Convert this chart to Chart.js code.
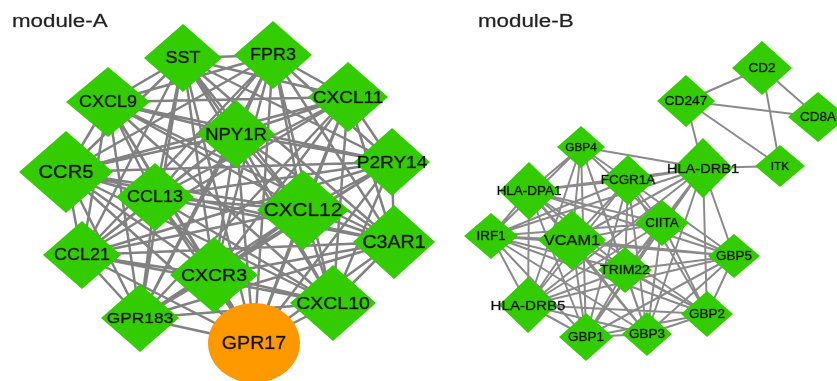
<!DOCTYPE html>
<html>
<head>
<meta charset="utf-8">
<script src="https://cdn.jsdelivr.net/npm/chart.js@4"></script>
<style>
  body { margin: 0; background: #fff; }
  #wrap { width: 837px; height: 381px; position: relative; }
</style>
</head>
<body>
<div id="wrap"><canvas id="netChart"></canvas></div>
<script>
// node layout (same pixel space as the picture, y grows downward)
const nodeNames = ['SST', 'FPR3', 'CXCL9', 'CXCL11', 'NPY1R', 'CCR5', 'P2RY14', 'CCL13', 'CXCL12', 'C3AR1',
  'CCL21', 'CXCR3', 'CXCL10', 'GPR183', 'GPR17',
  'CD2', 'CD247', 'CD8A', 'ITK', 'HLA-DRB1', 'GBP4', 'FCGR1A', 'HLA-DPA1', 'IRF1', 'VCAM1',
  'CIITA', 'GBP5', 'TRIM22', 'HLA-DRB5', 'GBP1', 'GBP3', 'GBP2'];
const nodeX = [183, 273, 108, 348, 236, 66, 392, 155, 303, 394, 82, 214, 333, 140, 254,
  762, 686, 818, 780, 703, 581, 628, 529, 491, 572, 662, 734, 625, 528, 586, 647, 707];
const nodeY = [58, 55, 102, 97, 134, 172, 162, 197, 210, 242, 255, 275, 303, 318, 343,
  68, 101, 117, 166, 168, 147, 180, 191, 236, 240, 223, 256, 270, 305, 337, 334, 314];

// interactions, one line per node: "node: neighbours"
const edgesA = [
  'SST: FPR3 CXCL9 CXCL11 NPY1R CCR5 P2RY14 CCL13 CXCL12 C3AR1 CCL21 CXCR3 CXCL10 GPR183 GPR17',
  'FPR3: CXCL9 CXCL11 NPY1R CCR5 P2RY14 CCL13 CXCL12 C3AR1 CCL21 CXCR3 CXCL10 GPR183 GPR17',
  'CXCL9: CXCL11 NPY1R CCR5 P2RY14 CCL13 CXCL12 C3AR1 CCL21 CXCR3 CXCL10 GPR183 GPR17',
  'CXCL11: NPY1R CCR5 P2RY14 CCL13 CXCL12 C3AR1 CCL21 CXCR3 CXCL10 GPR183 GPR17',
  'NPY1R: CCR5 P2RY14 CCL13 CXCL12 C3AR1 CCL21 CXCR3 CXCL10 GPR183 GPR17',
  'CCR5: P2RY14 CCL13 CXCL12 C3AR1 CCL21 CXCR3 CXCL10 GPR183 GPR17',
  'P2RY14: CCL13 CXCL12 C3AR1 CCL21 CXCR3 CXCL10 GPR183 GPR17',
  'CCL13: CXCL12 C3AR1 CCL21 CXCR3 CXCL10 GPR183 GPR17',
  'CXCL12: C3AR1 CCL21 CXCR3 CXCL10 GPR183 GPR17',
  'C3AR1: CCL21 CXCR3 CXCL10 GPR183 GPR17',
  'CCL21: CXCR3 CXCL10 GPR183 GPR17',
  'CXCR3: CXCL10 GPR183 GPR17',
  'CXCL10: GPR183 GPR17',
  'GPR183: GPR17'
];
const edgesB = [
  'CD2: CD247 CD8A ITK',
  'CD247: CD8A ITK HLA-DRB1',
  'ITK: HLA-DRB1',
  'GBP4: FCGR1A HLA-DPA1 HLA-DRB1 IRF1 VCAM1 CIITA TRIM22 HLA-DRB5 GBP1 GBP3',
  'FCGR1A: HLA-DPA1 HLA-DRB1 IRF1 VCAM1 CIITA GBP5 TRIM22 HLA-DRB5 GBP1 GBP3 GBP2',
  'HLA-DPA1: HLA-DRB1 IRF1 VCAM1 CIITA GBP5 TRIM22 HLA-DRB5 GBP1 GBP3 GBP2',
  'HLA-DRB1: IRF1 VCAM1 CIITA GBP5 TRIM22 HLA-DRB5 GBP1 GBP3 GBP2',
  'IRF1: VCAM1 CIITA GBP5 TRIM22 HLA-DRB5 GBP1 GBP3 GBP2',
  'VCAM1: CIITA GBP5 TRIM22 HLA-DRB5 GBP1 GBP3 GBP2',
  'CIITA: GBP5 TRIM22 HLA-DRB5 GBP1 GBP3 GBP2',
  'GBP5: TRIM22 HLA-DRB5 GBP1 GBP3 GBP2',
  'TRIM22: HLA-DRB5 GBP1 GBP3 GBP2',
  'HLA-DRB5: GBP1 GBP3 GBP2',
  'GBP1: GBP3 GBP2',
  'GBP3: GBP2'
];

// styling per node: half width, half height, label size
const nodeHalfW = [39, 39, 42, 40, 39, 47, 38, 39, 46, 41, 39, 44, 43, 39, 46,
  30, 29, 30, 25, 30, 24, 27, 30, 27, 34, 27, 26, 27, 29, 27, 25, 26];
const nodeHalfH = [34, 34, 35, 35, 34, 41, 34, 34, 40, 37, 34, 38, 38, 34, 40,
  27, 26, 25, 21, 30, 21, 25, 29, 23, 30, 23, 22, 23, 28, 24, 22, 23];
const labelSize = [16, 16, 16, 17, 16.5, 18, 17, 16, 18.5, 17.5, 16, 17.4, 17.4, 15.5, 17.5,
  12, 12.3, 12, 10.5, 13, 10.5, 12, 12, 12, 14.5, 12, 12, 12.5, 13.5, 12, 12, 12];
const GREEN = '#33cc00';
const ORANGE = '#ff9900';
const FONT = '"Liberation Sans", Arial, sans-serif';

function edgePoints(list) {
  const pts = [];
  list.forEach(line => {
    const [from, rest] = line.split(':');
    const a = nodeNames.indexOf(from.trim());
    rest.trim().split(/\s+/).forEach(to => {
      const b = nodeNames.indexOf(to);
      pts.push({ x: nodeX[a], y: nodeY[a] }, { x: nodeX[b], y: nodeY[b] }, { x: null, y: null });
    });
  });
  return pts;
}

function nodeShape(i) {
  const c = document.createElement('canvas');
  const w = nodeHalfW[i], h = nodeHalfH[i];
  c.width = w * 2;
  c.height = h * 2;
  const g = c.getContext('2d');
  g.beginPath();
  if (nodeNames[i] === 'GPR17') {
    g.fillStyle = ORANGE;
    g.ellipse(w, h, w, h, 0, 0, Math.PI * 2);
  } else {
    g.fillStyle = GREEN;
    g.moveTo(w, 0);
    g.lineTo(w * 2, h);
    g.lineTo(w, h * 2);
    g.lineTo(0, h);
    g.closePath();
  }
  g.fill();
  return c;
}

// text in the source picture is a little stretched sideways
function wideText(ctx, text, x, y, stretch) {
  ctx.save();
  ctx.translate(x, y);
  ctx.scale(stretch, 1);
  ctx.fillText(text, 0, 0);
  ctx.strokeText(text, 0, 0);
  ctx.restore();
}

const labelPlugin = {
  id: 'nodeLabels',
  afterDatasetsDraw(chart) {
    const ctx = chart.ctx;
    const meta = chart.getDatasetMeta(0);
    ctx.save();
    ctx.textAlign = 'center';
    ctx.textBaseline = 'middle';
    ctx.fillStyle = '#111';
    ctx.strokeStyle = 'rgba(17,17,17,0.6)';
    ctx.lineWidth = 0.5;
    meta.data.forEach((pt, i) => {
      ctx.font = labelSize[i] + 'px ' + FONT;
      wideText(ctx, nodeNames[i], pt.x, pt.y + 1, 1.12);
    });
    ctx.fillStyle = '#222';
    ctx.strokeStyle = 'rgba(34,34,34,0.5)';
    ctx.textAlign = 'left';
    ctx.textBaseline = 'alphabetic';
    ctx.font = '18px ' + FONT;
    wideText(ctx, 'module-A', 12, 27, 1.24);
    wideText(ctx, 'module-B', 478, 27, 1.24);
    ctx.restore();
  }
};

const ctx = document.getElementById('netChart').getContext('2d');
const netChart = new Chart(ctx, {
  type: 'scatter',
  data: {
    datasets: [{
      label: 'nodes',
      data: nodeNames.map((n, i) => ({ x: nodeX[i], y: nodeY[i] })),
      pointStyle: nodeNames.map((n, i) => nodeShape(i)),
      pointRadius: 10,
      order: 0
    }, {
      label: 'edges A',
      data: edgePoints(edgesA),
      showLine: true,
      spanGaps: false,
      pointRadius: 0,
      borderColor: 'rgba(115,115,115,0.9)',
      borderWidth: 2.5,
      order: 1
    }, {
      label: 'edges B',
      data: edgePoints(edgesB),
      showLine: true,
      spanGaps: false,
      pointRadius: 0,
      borderColor: 'rgba(125,125,125,0.9)',
      borderWidth: 2,
      order: 1
    }]
  },
  options: {
    responsive: true,
    maintainAspectRatio: false,
    animation: false,
    events: [],
    layout: { padding: 0, autoPadding: false },
    plugins: { legend: { display: false }, tooltip: { enabled: false } },
    scales: {
      x: { type: 'linear', min: 0, max: 837, display: false },
      y: { type: 'linear', min: 0, max: 381, reverse: true, display: false }
    }
  },
  plugins: [labelPlugin]
});
</script>
</body>
</html>
